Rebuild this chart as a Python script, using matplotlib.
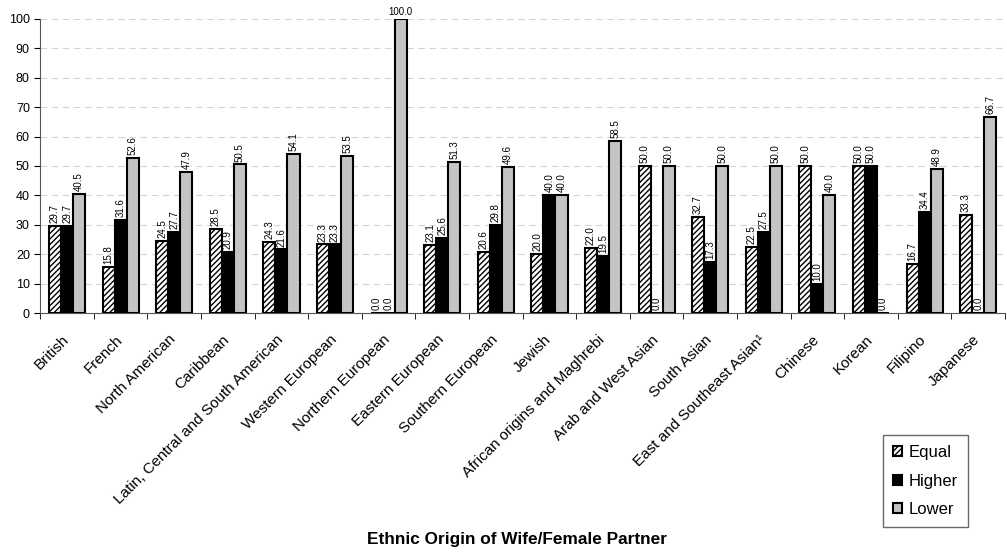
import numpy as np
import matplotlib
matplotlib.use("Agg")
from matplotlib import pyplot as plt

plt.rcParams['font.family'] = ['Liberation Sans', 'DejaVu Sans']
plt.rcParams['hatch.linewidth'] = 1.0

origins = ["British", "French", "North American", "Caribbean",
           "Latin, Central and South American", "Western European",
           "Northern European", "Eastern European", "Southern European",
           "Jewish", "African origins and Maghrebi", "Arab and West Asian",
           "South Asian", "East and Southeast Asian\u00b9", "Chinese",
           "Korean", "Filipino", "Japanese"]

equal = [29.7, 15.8, 24.5, 28.5, 24.3, 23.3, 0.0, 23.1, 20.6,
         20.0, 22.0, 50.0, 32.7, 22.5, 50.0, 50.0, 16.7, 33.3]
higher = [29.7, 31.6, 27.7, 20.9, 21.6, 23.3, 0.0, 25.6, 29.8,
          40.0, 19.5, 0.0, 17.3, 27.5, 10.0, 50.0, 34.4, 0.0]
lower = [40.5, 52.6, 47.9, 50.5, 54.1, 53.5, 100.0, 51.3, 49.6,
         40.0, 58.5, 50.0, 50.0, 50.0, 40.0, 0.0, 48.9, 66.7]

fig = plt.figure(figsize=(10.07, 5.54), dpi=100)
ax = fig.add_axes([0.040, 0.435, 0.958, 0.531])

x = np.arange(len(origins))
w = 0.225
series = [
    ("Equal", equal, dict(color="white", hatch="//////")),
    ("Higher", higher, dict(color="black")),
    ("Lower", lower, dict(color="#c4c4c4")),
]

for k, (name, vals, style) in enumerate(series):
    pos = x + (k - 1) * w
    ax.bar(pos, vals, w, edgecolor="black", linewidth=1.5, label=name, zorder=3, **style)
    for p, v in zip(pos, vals):
        if v >= 95:
            # no room above the top, so this one sits flat
            ax.text(p, v + 0.6, f"{v:.1f}", ha="center", va="bottom", fontsize=7)
        else:
            ax.text(p, v + 1.0, f"{v:.1f}", ha="center", va="bottom",
                    rotation=90, fontsize=7)

ax.set_xlim(-0.5, len(origins) - 0.5)
ax.set_ylim(0, 100)
ax.set_yticks(range(0, 101, 10))
ax.tick_params(axis="y", labelsize=9, length=4, direction="out")

ax.set_xticks(x - 0.1)
ax.set_xticklabels(origins, rotation=45, ha="right", rotation_mode="anchor", fontsize=11)
ax.tick_params(axis="x", which="major", length=0, pad=14)
ax.set_xticks(np.arange(-0.5, len(origins) + 0.5, 1), minor=True)
ax.tick_params(axis="x", which="minor", length=4, direction="out")

for val in range(10, 101, 10):
    ax.axhline(val, color="#d4d4d4", linestyle=(0, (6, 4)), linewidth=0.8, zorder=1)

for side in ["top", "right"]:
    ax.spines[side].set_visible(False)
ax.spines["left"].set_color("#555555")
ax.spines["bottom"].set_color("#555555")

fig.text(0.513, 0.012, "Ethnic Origin of Wife/Female Partner", ha="center",
         va="bottom", fontsize=12.4, fontweight="bold")

leg = fig.legend(loc="lower left", bbox_to_anchor=(0.877, 0.049), fontsize=12,
                 frameon=True, fancybox=False, edgecolor="#444444",
                 borderaxespad=0.0,
                 handlelength=0.55, handleheight=0.55, handletextpad=0.4,
                 labelspacing=0.8, borderpad=0.6)
leg.get_frame().set_linewidth(1.0)

fig.savefig("out.png", dpi=100)
